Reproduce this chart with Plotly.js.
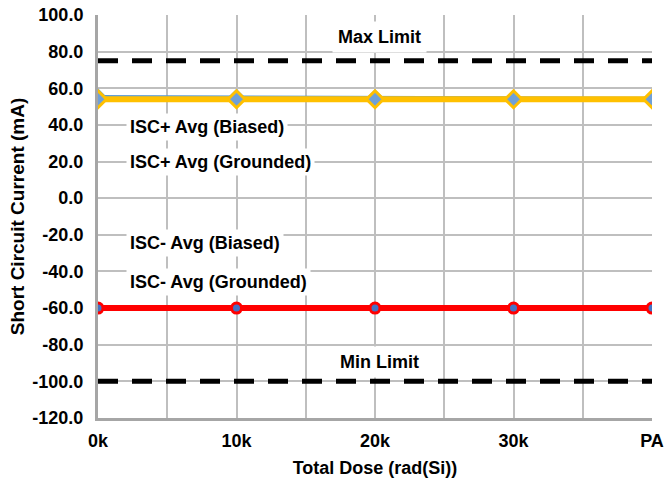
<!DOCTYPE html>
<html><head><meta charset="utf-8">
<script src="https://cdn.plot.ly/plotly-3.0.1.min.js"></script>
<style>body{margin:0;background:#fff}#c{width:667px;height:481px}</style>
</head><body><div id="c"></div>
<script>
const categories = ["0k","10k","20k","30k","PA"];
const iscPlusBiased = [55.8, 55.5, 55.2, 55.0, 54.8];
const iscPlusGrounded = [54.0, 54.0, 54.0, 54.0, 54.0];
const iscMinusBiased = [-60.0, -60.0, -60.0, -60.0, -60.0];
const iscMinusGrounded = [-60.0, -60.0, -60.0, -60.0, -60.0];
const maxLimit = [75, 75, 75, 75, 75];
const minLimit = [-100, -100, -100, -100, -100];
const yTicks = [100,80,60,40,20,0,-20,-40,-60,-80,-100,-120];

const xs = categories.map((c,i)=>i);
const FAM = "Liberation Sans, Arial, sans-serif";
const FS = 18;
const font = {family:FAM, size:FS, color:"#000"};
const traces = [
 {x:xs, y:maxLimit, mode:"lines", line:{color:"#000", width:5, dash:"20px,14px"}, name:"Max Limit"},
 {x:xs, y:minLimit, mode:"lines", line:{color:"#000", width:5, dash:"20px,14px"}, name:"Min Limit"},
 {x:xs, y:iscPlusBiased, mode:"lines+markers", line:{color:"#5B9BD5", width:2}, marker:{symbol:"diamond", size:12, color:"#5B9BD5"}, name:"ISC+ Avg (Biased)"},
 {x:xs, y:iscPlusGrounded, mode:"lines+markers", line:{color:"#FFC000", width:6}, marker:{symbol:"diamond", size:13, color:"#6FA0D8", line:{color:"#FFC000", width:3}}, name:"ISC+ Avg (Grounded)"},
 {x:xs, y:iscMinusBiased, mode:"lines+markers", line:{color:"#4472C4", width:2}, marker:{symbol:"circle", size:10, color:"#4472C4"}, name:"ISC- Avg (Biased)"},
 {x:xs, y:iscMinusGrounded, mode:"lines+markers", line:{color:"#FF0000", width:6}, marker:{symbol:"circle", size:10, color:"#4472C4", line:{color:"#FF0000", width:3}}, name:"ISC- Avg (Grounded)"}
];
const lab = (t,x,y,xa,pad)=>({text:"<b>"+t+"</b>", x:x, y:y, xref:"x", yref:"y", showarrow:false, xanchor:xa, bgcolor:"#fff", font:{family:FAM,size:FS,color:"#000"}, borderpad:pad});
const tv = []; const tt = [];
for (let i=0;i<categories.length;i++){ tv.push(i); tt.push("<b>"+categories[i]+"</b>"); }
const layout = {
 width:667, height:481, showlegend:false,
 paper_bgcolor:"#fff", plot_bgcolor:"#fff",
 margin:{l:98, r:15, t:15, b:63},
 font:font,
 xaxis:{range:[0,4], tickmode:"array", tickvals:tv, ticktext:tt, showgrid:true, gridcolor:"#BFBFBF", gridwidth:2,
   minor:{dtick:0.5, showgrid:true, gridcolor:"#BFBFBF", gridwidth:2, ticks:""},
   showline:true, linecolor:"#A6A6A6", linewidth:3, zeroline:false, ticks:"", ticklabelstandoff:4,
   title:{text:"<b>Total Dose (rad(Si))</b>", font:{size:FS}, standoff:12}, tickfont:{size:FS}},
 yaxis:{range:[-120,100], tickmode:"array", tickvals:yTicks, ticktext:yTicks.map(v=>"<b>"+v.toFixed(1)+"</b>"),
   showgrid:true, gridcolor:"#BFBFBF", gridwidth:2, zeroline:false, showline:true, linecolor:"#A6A6A6", linewidth:3, ticks:"",
   ticklabelstandoff:8,
   title:{text:"<b>Short Circuit Current (mA)</b>", font:{size:19}, standoff:3}, tickfont:{size:FS}},
 annotations:[
  lab("Max Limit", 2.03, 88, "center", 5),
  lab("Min Limit", 2.03, -89.4, "center", 5),
  lab("ISC+ Avg (Biased)", 0.2, 38.9, "left", 3),
  lab("ISC+ Avg (Grounded)", 0.2, 19.8, "left", 3),
  lab("ISC- Avg (Biased)", 0.2, -24.5, "left", 3),
  lab("ISC- Avg (Grounded)", 0.2, -45.7, "left", 3)
 ]
};
Plotly.newPlot("c", traces, layout, {displayModeBar:false, staticPlot:true});
</script></body></html>
